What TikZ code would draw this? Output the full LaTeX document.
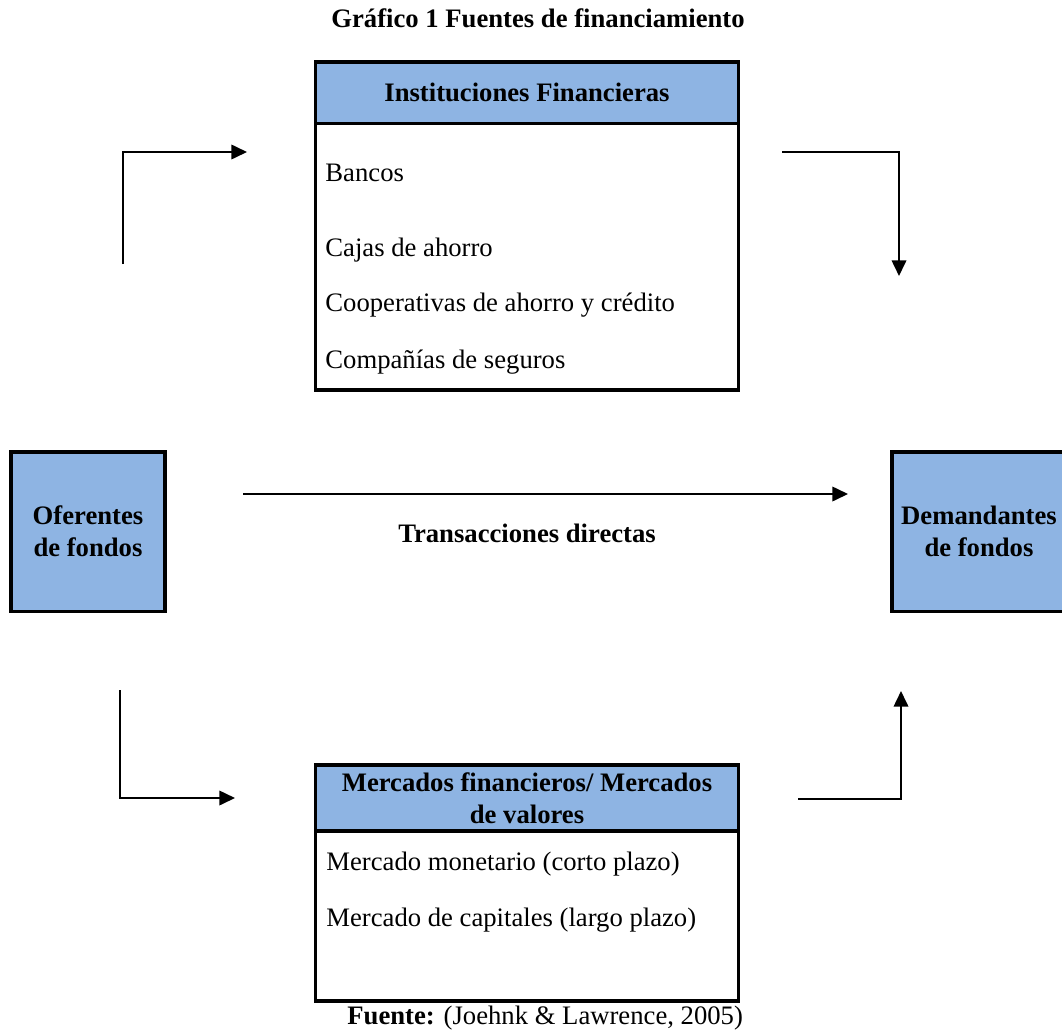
\documentclass[12pt,tikz,border=0pt]{standalone}
\usepackage{fontspec}
\setmainfont{Liberation Serif}
\usetikzlibrary{arrows.meta}
\definecolor{headblue}{RGB}{142,180,227}

\begin{document}
\begin{tikzpicture}[x=0.45pt,y=-0.45pt,
  box/.style={draw, line width=1.4pt, inner sep=0pt},
  headbox/.style={box, fill=headblue, font=\bfseries, align=center},
  item/.style={anchor=base west, inner sep=0pt},
  flow/.style={line width=0.9pt, -{Triangle[length=7pt,width=6.5pt]}}]
  \useasboundingbox (0,0) rectangle (1062,1033);

  \node[anchor=base, inner sep=0pt, font=\bfseries] (title) at (538,27) {Gráfico 1 Fuentes de financiamiento};

  % instituciones financieras
  \node[box, minimum width=190pt, minimum height=147.6pt] (inst) at (527,226) {};
  \node[headbox, minimum width=190pt, minimum height=27.5pt] (insthead) at (527,92.5) {Instituciones Financieras};
  \node[item] (bancos) at (325,181.7) {Bancos};
  \node[item] (cajas) at (325,256) {Cajas de ahorro};
  \node[item] (coop) at (325,311.7) {Cooperativas de ahorro y crédito};
  \node[item] (seguros) at (325,368.3) {Compañías de seguros};

  % oferentes y demandantes
  \node[headbox, minimum width=69.3pt, minimum height=71.6pt] (oferentes) at (88,531.5) {Oferentes\\de fondos};
  \node[headbox, minimum width=78.3pt, minimum height=71.6pt] (demandantes) at (979,531.5) {Demandantes\\de fondos};

  \coordinate (dirA) at (243,494);
  \coordinate (dirB) at (848,494);
  \draw[flow] (dirA) -- (dirB);
  \node[anchor=base, inner sep=0pt, font=\bfseries] (directas) at (527,542) {Transacciones directas};

  % mercados
  \node[box, minimum width=190pt, minimum height=106.2pt] (merc) at (527,883) {};
  \node[headbox, minimum width=190pt, minimum height=29.7pt] (merchead) at (527,798) {Mercados financieros/ Mercados\\de valores};
  \node[item] (monetario) at (326,870) {Mercado monetario (corto plazo)};
  \node[item] (capitales) at (326,926.7) {Mercado de capitales (largo plazo)};

  \node[item] (fuente) at (347,1024) {\textbf{Fuente:} (Joehnk \& Lawrence, 2005)};

  % flechas en angulo
  \coordinate (tlA) at (123,264);
  \coordinate (tlB) at (247,152);
  \coordinate (trA) at (782,152);
  \coordinate (trB) at (899,276);
  \coordinate (blA) at (120,690);
  \coordinate (blB) at (235,798);
  \coordinate (brA) at (798,799);
  \coordinate (brB) at (901,691);
  \draw[flow] (tlA) |- (tlB);
  \draw[flow] (trA) -| (trB);
  \draw[flow] (blA) |- (blB);
  \draw[flow] (brA) -| (brB);
\end{tikzpicture}
\end{document}
